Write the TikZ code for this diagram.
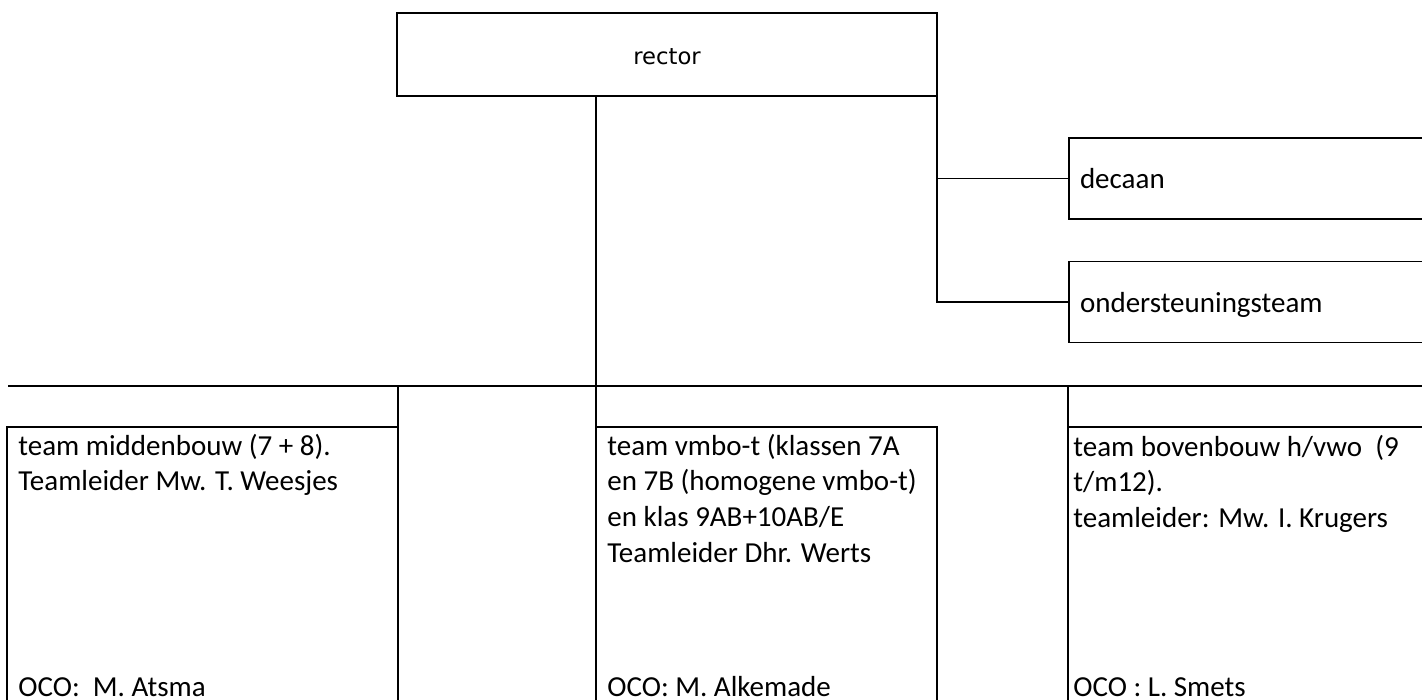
\documentclass[tikz,border=0pt]{standalone}
\usepackage{fontspec}
\setmainfont{Carlito}
\newfontfamily\rectorfont{DejaVu Sans}
\usetikzlibrary{positioning}

\tikzset{
  box/.style={draw, line width=0.9pt, rectangle, inner sep=0pt, outer sep=0pt},
  sidebox/.style={box, anchor=west, text width=190pt, inner xsep=5.5pt,
    minimum height=40.5pt, align=left, text height=10.5pt, text depth=0pt,
    font=\fontsize{14.5}{17.9}\selectfont},
  team/.style={anchor=base west, inner sep=0pt, font=\fontsize{14.5}{17.9}\selectfont},
  conn/.style={line width=0.9pt},
}

\begin{document}
\begin{tikzpicture}[x=0.5pt,y=-0.5pt]
\useasboundingbox (0,0) rectangle (1422,700);
\clip (0,0) rectangle (1422,700);
% top
\node[box, minimum width=270pt, minimum height=41.5pt, text height=10.5pt, text depth=0pt,
  font=\rectorfont\fontsize{11.35}{13}\selectfont] (rector) at (667,54.5) {rector};
\node[sidebox] (decaan) at (1069,178.5) {decaan};
\node[sidebox] (onder) at (1069,302) {ondersteuningsteam};
% teams
\node[box, anchor=north west, minimum width=195.5pt, minimum height=150pt] (lbox) at (7,427) {};
\node[box, anchor=north west, minimum width=170.5pt, minimum height=150pt] (mbox) at (596,427) {};
\node[box, anchor=north west, minimum width=250pt, minimum height=150pt] (rbox) at (1068,427) {};
\node[team] (lteam) at (18,455) {\parbox[t]{185pt}{team middenbouw (7 + 8).\\Teamleider Mw. T. Weesjes}};
\node[team] (mteam) at (607,455) {\parbox[t]{160pt}{team vmbo-t (klassen 7A\\en 7B (homogene vmbo-t)\\en klas 9AB+10AB/E\\Teamleider Dhr. Werts}};
\node[team] (rteam) at (1073,456) {\parbox[t]{170pt}{team bovenbouw h/vwo~~(9\\t/m12).\\teamleider: Mw. I. Krugers}};
\node[team] (loco) at (18,696) {OCO:~~M. Atsma};
\node[team] (moco) at (607,696) {OCO: M. Alkemade};
\node[team] (roco) at (1073,696) {OCO : L. Smets};
% lines
\coordinate (busL) at (8,386);
\coordinate (busR) at (1430,386);
\draw[conn] (busL) -- (busR);
\draw[conn] (rector.south -| mbox.north west) -- (mbox.north west);
\draw[conn] (rector.south east) |- (onder.west);
\draw[conn] (rector.south east |- decaan.west) -- (decaan.west);
\draw[conn] (lbox.north east) -- (lbox.north east |- busL);
\draw[conn] (rbox.north west) -- (rbox.north west |- busL);
\end{tikzpicture}
\end{document}
